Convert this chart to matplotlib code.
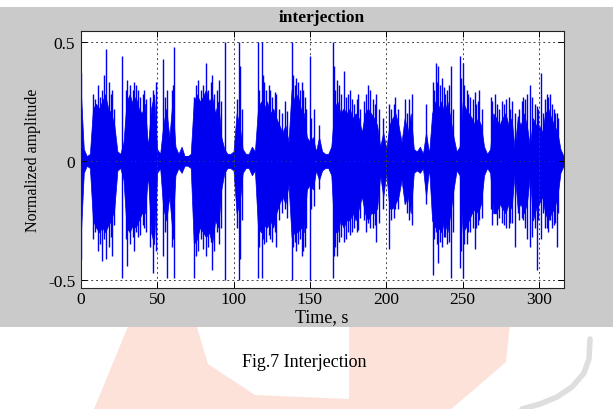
import numpy as np
import matplotlib
matplotlib.use("Agg")
import matplotlib.pyplot as plt
from matplotlib.patches import Rectangle, Polygon

# envelope of the waveform, one value every 2 s (upper / lower magnitude)
env_hi = [0.30, 0.05, 0.02, 0.03, 0.22, 0.24, 0.22, 0.25, 0.28, 0.22,
          0.20, 0.15, 0.04, 0.03, 0.08, 0.25, 0.28, 0.24, 0.27, 0.22,
          0.20, 0.24, 0.06, 0.22, 0.28, 0.05, 0.03, 0.15, 0.22, 0.10,
          0.25, 0.06, 0.03, 0.06, 0.02, 0.02, 0.03, 0.25, 0.28, 0.25,
          0.27, 0.30, 0.25, 0.27, 0.20, 0.25, 0.10, 0.05, 0.03, 0.03,
          0.04, 0.20, 0.15, 0.05, 0.03, 0.03, 0.06, 0.04, 0.22, 0.25,
          0.22, 0.25, 0.20, 0.22, 0.18, 0.15, 0.12, 0.15, 0.08, 0.30,
          0.25, 0.28, 0.22, 0.20, 0.10, 0.08, 0.10, 0.04, 0.10, 0.04,
          0.03, 0.03, 0.06, 0.22, 0.25, 0.20, 0.22, 0.20, 0.22, 0.18,
          0.20, 0.18, 0.12, 0.20, 0.22, 0.20, 0.18, 0.15, 0.06, 0.12,
          0.05, 0.15, 0.18, 0.20, 0.15, 0.08, 0.18, 0.12, 0.20, 0.05,
          0.04, 0.06, 0.03, 0.12, 0.03, 0.20, 0.25, 0.22, 0.25, 0.20,
          0.25, 0.18, 0.10, 0.04, 0.06, 0.25, 0.22, 0.20, 0.18, 0.15,
          0.18, 0.15, 0.06, 0.03, 0.05, 0.20, 0.18, 0.15, 0.18, 0.20,
          0.15, 0.18, 0.05, 0.18, 0.15, 0.20, 0.15, 0.06, 0.18, 0.15,
          0.15, 0.12, 0.20, 0.22, 0.18, 0.15, 0.12, 0.05, 0.02]
env_lo = [0.32, 0.05, 0.02, 0.03, 0.25, 0.28, 0.30, 0.28, 0.30, 0.27,
          0.25, 0.20, 0.04, 0.03, 0.08, 0.28, 0.30, 0.27, 0.28, 0.25,
          0.22, 0.22, 0.06, 0.30, 0.35, 0.05, 0.03, 0.20, 0.25, 0.15,
          0.30, 0.06, 0.03, 0.05, 0.02, 0.02, 0.03, 0.35, 0.33, 0.28,
          0.30, 0.32, 0.30, 0.35, 0.25, 0.28, 0.12, 0.05, 0.03, 0.03,
          0.04, 0.22, 0.18, 0.05, 0.03, 0.03, 0.06, 0.04, 0.28, 0.30,
          0.27, 0.28, 0.25, 0.28, 0.22, 0.18, 0.15, 0.18, 0.10, 0.32,
          0.30, 0.30, 0.28, 0.30, 0.12, 0.10, 0.12, 0.04, 0.08, 0.04,
          0.03, 0.03, 0.06, 0.30, 0.30, 0.25, 0.28, 0.25, 0.25, 0.22,
          0.25, 0.20, 0.15, 0.22, 0.25, 0.22, 0.22, 0.20, 0.06, 0.15,
          0.05, 0.20, 0.20, 0.18, 0.15, 0.08, 0.18, 0.15, 0.22, 0.05,
          0.04, 0.05, 0.03, 0.15, 0.03, 0.25, 0.28, 0.28, 0.30, 0.25,
          0.30, 0.22, 0.12, 0.04, 0.06, 0.30, 0.28, 0.25, 0.22, 0.20,
          0.22, 0.18, 0.06, 0.03, 0.05, 0.22, 0.22, 0.18, 0.20, 0.22,
          0.18, 0.20, 0.05, 0.20, 0.18, 0.22, 0.18, 0.06, 0.25, 0.20,
          0.18, 0.15, 0.22, 0.25, 0.22, 0.20, 0.15, 0.05, 0.02]

# isolated tall peaks: time (s), top, bottom
spike_t = [0.5, 11, 14, 16.5, 18.5, 20.5, 27, 30.5, 35, 37.5,
           42.5, 47.5, 54, 56.5, 61.3, 74.2, 77, 82, 86, 90.5,
           94.5, 103.6, 104.5, 115.8, 118.5, 120, 124, 128, 134, 138.3,
           141, 144.5, 146.5, 150, 153, 164.8, 165.5, 167.5, 172, 176,
           181.5, 188, 193.5, 202, 206, 212, 216.5, 226, 230.6, 232.5,
           234, 237.5, 242.4, 248.2, 250.2, 252.5, 258, 261, 268.5, 271,
           280, 284, 286, 289.5, 294, 298.6, 301.5, 305, 307, 311.5]
spike_hi = [0.37, 0.32, 0.30, 0.47, 0.33, 0.30, 0.44, 0.34, 0.33, 0.30,
            0.26, 0.30, 0.43, 0.30, 0.48, 0.27, 0.34, 0.41, 0.36, 0.34,
            0.50, 0.50, 0.40, 0.50, 0.50, 0.33, 0.30, 0.28, 0.25, 0.50,
            0.35, 0.33, 0.27, 0.44, 0.22, 0.50, 0.40, 0.34, 0.38, 0.30,
            0.28, 0.32, 0.28, 0.24, 0.27, 0.26, 0.28, 0.24, 0.33, 0.41,
            0.40, 0.31, 0.40, 0.44, 0.41, 0.30, 0.29, 0.30, 0.27, 0.28,
            0.27, 0.20, 0.19, 0.27, 0.32, 0.23, 0.37, 0.28, 0.28, 0.20]
spike_lo = [-0.41, -0.38, -0.42, -0.41, -0.36, -0.40, -0.49, -0.44, -0.38, -0.32,
            -0.30, -0.47, -0.40, -0.49, -0.49, -0.49, -0.38, -0.40, -0.46, -0.35,
            -0.50, -0.50, -0.41, -0.49, -0.49, -0.35, -0.33, -0.36, -0.20, -0.50,
            -0.38, -0.40, -0.36, -0.50, -0.19, -0.49, -0.40, -0.40, -0.34, -0.31,
            -0.29, -0.26, -0.34, -0.37, -0.20, -0.18, -0.27, -0.18, -0.48, -0.30,
            -0.43, -0.32, -0.49, -0.45, -0.49, -0.35, -0.37, -0.25, -0.20, -0.22,
            -0.28, -0.36, -0.22, -0.25, -0.36, -0.46, -0.33, -0.28, -0.25, -0.36]

# smaller peaks sticking out of the bursts
mid_t = [8, 9.5, 12.5, 15, 19.5, 22, 29.5, 32.5, 34, 36.5,
         39, 40.5, 41.5, 45.5, 49, 55, 59.5, 60.5, 75.5, 78.5,
         80, 83.5, 85, 87.5, 89, 91.5, 102, 105.5, 117, 119.5,
         121.5, 123, 125.5, 127, 130, 132, 135, 139, 140, 142.5,
         143.5, 145.5, 147.5, 151, 156, 166.5, 169, 170.5, 173.5, 175,
         177.5, 179, 180.5, 183, 185.5, 187, 189.5, 191, 192.5, 195,
         198, 203, 205, 207.5, 213.5, 215, 231.5, 233.5, 235, 236.5,
         238.5, 239.5, 241, 243.5, 249, 251, 253.5, 255, 256.5, 259,
         260, 262.5, 269.5, 272.5, 274, 275.5, 277, 278.5, 281, 282.5,
         287, 288.5, 290.5, 292, 295.5, 297, 299.5, 302.5, 304, 306,
         308.5, 309.5, 310.5, 312.5]
mid_hi = [0.28, 0.26, 0.27, 0.36, 0.28, 0.22, 0.30, 0.32, 0.30, 0.32,
          0.27, 0.28, 0.30, 0.27, 0.33, 0.27, 0.30, 0.32, 0.32, 0.30,
          0.32, 0.30, 0.33, 0.28, 0.30, 0.25, 0.26, 0.22, 0.30, 0.36,
          0.30, 0.32, 0.27, 0.29, 0.22, 0.20, 0.21, 0.36, 0.32, 0.33,
          0.30, 0.30, 0.22, 0.18, 0.15, 0.30, 0.32, 0.28, 0.27, 0.28,
          0.26, 0.24, 0.26, 0.22, 0.25, 0.28, 0.30, 0.26, 0.24, 0.22,
          0.18, 0.22, 0.24, 0.22, 0.20, 0.26, 0.30, 0.33, 0.32, 0.35,
          0.28, 0.30, 0.32, 0.22, 0.35, 0.32, 0.28, 0.27, 0.26, 0.24,
          0.25, 0.22, 0.25, 0.24, 0.22, 0.25, 0.24, 0.26, 0.22, 0.25,
          0.22, 0.25, 0.26, 0.28, 0.27, 0.24, 0.22, 0.20, 0.26, 0.27,
          0.24, 0.22, 0.20, 0.18]
mid_lo = [-0.33, -0.30, -0.35, -0.33, -0.32, -0.27, -0.33, -0.35, -0.32, -0.30,
          -0.31, -0.27, -0.28, -0.36, -0.38, -0.30, -0.36, -0.33, -0.40, -0.33,
          -0.37, -0.36, -0.34, -0.38, -0.30, -0.28, -0.28, -0.25, -0.36, -0.33,
          -0.34, -0.31, -0.34, -0.30, -0.25, -0.22, -0.24, -0.36, -0.34, -0.35,
          -0.33, -0.38, -0.28, -0.20, -0.12, -0.36, -0.34, -0.32, -0.33, -0.30,
          -0.30, -0.28, -0.30, -0.24, -0.25, -0.30, -0.28, -0.28, -0.27, -0.26,
          -0.20, -0.25, -0.24, -0.20, -0.22, -0.25, -0.33, -0.35, -0.34, -0.36,
          -0.32, -0.35, -0.34, -0.30, -0.38, -0.35, -0.30, -0.30, -0.28, -0.28,
          -0.27, -0.24, -0.27, -0.27, -0.24, -0.26, -0.27, -0.28, -0.26, -0.26,
          -0.25, -0.24, -0.28, -0.33, -0.32, -0.28, -0.25, -0.22, -0.28, -0.30,
          -0.28, -0.27, -0.26, -0.22]

x_ticks = [0, 50, 100, 150, 200, 250, 300]
y_ticks = [-0.5, 0, 0.5]
y_ticklabels = ["-0.5", "0", "0.5"]

BLUE = "#0000f0"
GRAY = "#cacaca"
SERIF = "Liberation Serif"
W, H = 613.0, 410.0


def px(points):
    # pixel coords (from top-left) -> figure fraction
    return [[x / W, 1 - y / H] for x, y in points]


fig = plt.figure(figsize=(6.13, 4.10), dpi=100)
fig.patch.set_facecolor("white")

# faint watermark below the panel
pink = "#fde2da"
fig.patches.append(Polygon(px([(129, 325), (196, 325), (208, 365), (255, 396),
                               (349, 400), (349, 325), (510, 325), (506, 363),
                               (470, 394), (451, 410), (94, 410)]),
                           closed=True, transform=fig.transFigure, facecolor=pink,
                           edgecolor="none", zorder=0))
arc = px([(590, 340), (589, 360), (584, 374), (572, 388), (557, 398), (540, 405), (522, 410)])
fig.add_artist(plt.Line2D([p[0] for p in arc], [p[1] for p in arc],
                          transform=fig.transFigure, color="#dedede", lw=4,
                          solid_capstyle="round", zorder=0))

# gray figure panel
fig.patches.append(Rectangle(px([(0, 328)])[0], 1, 320 / H, transform=fig.transFigure,
                             facecolor=GRAY, edgecolor="none", zorder=1))

ax = fig.add_axes([0.1317, 0.2951, 0.7876, 0.6268])
ax.set_zorder(2)
ax.set_facecolor("white")

env_t = np.arange(len(env_hi)) * 2.0
ax.fill_between(env_t, -np.array(env_lo), env_hi, color=BLUE, lw=0.5)
ax.fill_between([0, 316], -0.02, 0.02, color=BLUE, lw=0)
ax.vlines(mid_t, mid_lo, mid_hi, color=BLUE, lw=1.0)
ax.vlines(spike_t, spike_lo, spike_hi, color=BLUE, lw=1.0)

ax.set_xlim(0, 316)
ax.set_ylim(-0.534, 0.546)
ax.set_xticks(x_ticks)
ax.set_yticks(y_ticks)
ax.set_yticklabels(y_ticklabels)
ax.grid(True, color="#444444", linestyle=(0, (2, 3)), lw=0.7)
ax.tick_params(direction="in", top=True, right=True, length=4, width=0.7,
               labelsize=12.5, pad=4)
ax.tick_params(axis="x", pad=2)
for lab in ax.get_xticklabels() + ax.get_yticklabels():
    lab.set_family(SERIF)
for sp in ax.spines.values():
    sp.set_color("#222222")
    sp.set_linewidth(0.8)

ax.set_title("interjection", family=SERIF, fontsize=12.5, fontweight="bold", pad=7)
ax.set_xlabel("Time, s", family=SERIF, fontsize=13, labelpad=1)
ax.set_ylabel("Normalized amplitude", family=SERIF, fontsize=11.5, labelpad=5)

fig.text(0.497, 0.117, "Fig.7 Interjection", family=SERIF, fontsize=13,
         ha="center", va="center")

fig.savefig("out.png", dpi=100)
